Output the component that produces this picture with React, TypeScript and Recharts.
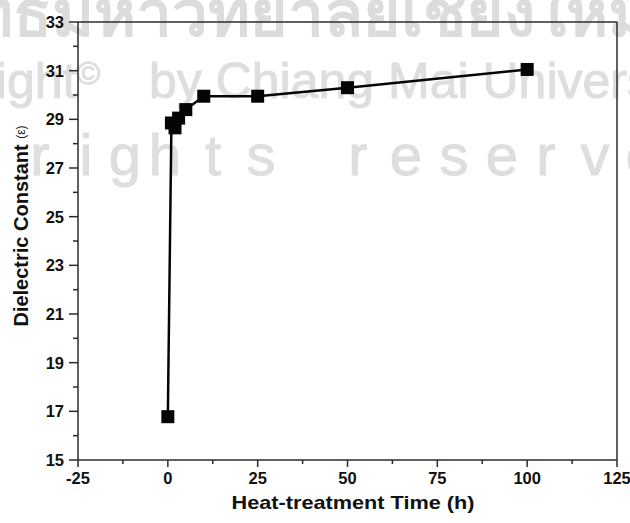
import { LineChart, Line, XAxis, YAxis, ReferenceLine, Label } from "recharts";

// heat-treatment time (h) and measured dielectric constant
const times = [0, 1, 2, 3, 5, 10, 25, 50, 100];
const dielectric = [16.78, 28.85, 28.65, 29.05, 29.4, 29.95, 29.95, 30.3, 31.05];

const xTicks = [-25, -12.5, 0, 12.5, 25, 37.5, 50, 62.5, 75, 87.5, 100, 112.5, 125];
const yTicks = [15, 16, 17, 18, 19, 20, 21, 22, 23, 24, 25, 26, 27, 28, 29, 30, 31, 32, 33];

const data = times.map((t, i) => ({ time: t, eps: dielectric[i] }));

const AXIS = "#2b2b2b";
const FONT = "'Liberation Sans', Arial, sans-serif";

const YTick = ({ x, y, payload }: any) => {
    const major = payload.value % 2 === 1;
    return (
        <g>
            <line x1={x - (major ? 9 : 5)} x2={x} y1={y} y2={y} stroke={AXIS} strokeWidth={1.5} />
            {major && (
                <text x={x - 14} y={y} dy="0.36em" textAnchor="end" fontSize={16.5} fontWeight="bold" fontFamily={FONT} fill="#111">
                    {payload.value}
                </text>
            )}
        </g>
    );
};

const XTick = ({ x, y, payload }: any) => {
    const major = payload.value % 25 === 0;
    return (
        <g>
            <line x1={x} x2={x} y1={y} y2={y + (major ? 7 : 4)} stroke={AXIS} strokeWidth={1.5} />
            {major && (
                <text x={x} y={y + 24} textAnchor="middle" fontSize={16.5} fontWeight="bold" fontFamily={FONT} fill="#111">
                    {payload.value}
                </text>
            )}
        </g>
    );
};

const SquareDot = ({ cx, cy, index }: any) => (
    <rect key={`sq-${index}`} x={cx - 6.5} y={cy - 6.5} width={13} height={13} fill="#050505" />
);

const YTitle = () => {
    const cx = 21;
    const cy = 226;
    return (
        <text x={cx} y={cy} transform={`rotate(-90 ${cx} ${cy})`} textAnchor="middle" dominantBaseline="central" fontFamily={FONT} fill="#111">
            <tspan fontSize={20} fontWeight="bold">Dielectric Constant </tspan>
            <tspan fontSize={12}>(ε)</tspan>
        </text>
    );
};

const XTitle = () => (
    <text x={353} y={509} textAnchor="middle" fontSize={19} fontWeight="bold" fontFamily={FONT} fill="#111" textLength={243} lengthAdjust="spacingAndGlyphs">
        Heat-treatment Time (h)
    </text>
);

const Watermark = () => (
    <svg width={630} height={523} style={{ position: "absolute", left: 0, top: 0 }}>
        <text x={-151} y={36} fontSize={64} fontWeight="bold" fontFamily="'Noto Sans', 'DejaVu Sans', sans-serif" fill="#dcdcdc">
            ลิขสิทธิ์มหาวิทยาลัยเชียงใหม่
        </text>
        <g fill="#dedede" stroke="#dedede" strokeWidth={1} fontFamily={FONT}>
            <text x={100} y={98} textAnchor="end" fontSize={50}>
                Copyright<tspan fontSize={32} dy={-14}>©</tspan>
            </text>
            <text x={149} y={98} fontSize={50}>
                by Chiang Mai University
            </text>
            <text
                x="-148 -101 -54 -7 40 86 125 165 213 261 310 358 406 454 502 546 595 642 689"
                y={175}
                textAnchor="middle"
                fontSize={58}
            >
                All rights reserved
            </text>
        </g>
    </svg>
);

export default function App() {
    return (
        <div style={{ position: "absolute", left: 0, top: 0, width: 630, height: 523, background: "#fff" }}>
            <Watermark />
            <div style={{ position: "absolute", left: 0, top: 0 }}>
                <LineChart width={630} height={523} data={data} margin={{ top: 22, right: 13, left: 0, bottom: 0 }}>
                    <XAxis
                        dataKey="time"
                        type="number"
                        domain={[-25, 125]}
                        ticks={xTicks}
                        interval={0}
                        height={63}
                        tickSize={0}
                        tickMargin={0}
                        tick={<XTick />}
                        axisLine={{ stroke: AXIS, strokeWidth: 1.5 }}
                        tickLine={false}
                    >
                        <Label content={<XTitle />} />
                    </XAxis>
                    <YAxis
                        type="number"
                        domain={[15, 33]}
                        ticks={yTicks}
                        interval={0}
                        width={78}
                        tickSize={0}
                        tickMargin={0}
                        tick={<YTick />}
                        axisLine={{ stroke: AXIS, strokeWidth: 1.5 }}
                        tickLine={false}
                    >
                        <Label content={<YTitle />} />
                    </YAxis>
                    <ReferenceLine y={33} stroke={AXIS} strokeWidth={1.5} />
                    <ReferenceLine x={125} stroke={AXIS} strokeWidth={1.5} />
                    <Line
                        dataKey="eps"
                        stroke="#050505"
                        strokeWidth={2.5}
                        dot={<SquareDot />}
                        activeDot={false}
                        isAnimationActive={false}
                    />
                </LineChart>
            </div>
        </div>
    );
}
